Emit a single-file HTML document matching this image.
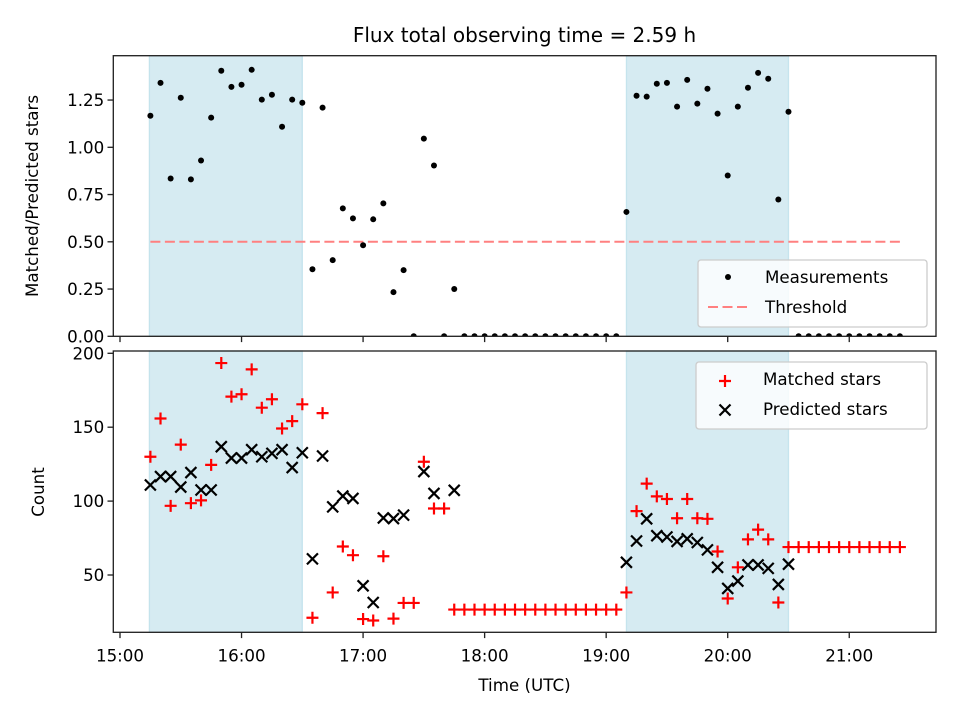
<!DOCTYPE html>
<html><head><meta charset="utf-8"><style>
html,body{margin:0;padding:0;background:#fff;}
svg{display:block;font-family:"DejaVu Sans","Liberation Sans",sans-serif;}
</style></head><body>
<svg id="chart" width="960" height="720" viewBox="0 0 960 720" xmlns="http://www.w3.org/2000/svg">
<defs>
<clipPath id="clipTop"><rect x="113.3" y="55.7" width="822.7" height="280.6"/></clipPath>
<clipPath id="clipBot"><rect x="113.3" y="351" width="822.7" height="281.3"/></clipPath>
</defs>
<text x="524.5" y="42" text-anchor="middle" font-size="20" fill="#000">Flux total observing time = 2.59 h</text>
<g id="gTop"></g>
<g id="gBot"></g>
</svg>
<script>
const times = ["15:15","15:20","15:25","15:30","15:35","15:40","15:45","15:50","15:55",
"16:00","16:05","16:10","16:15","16:20","16:25","16:30","16:35","16:40","16:45","16:50","16:55",
"17:00","17:05","17:10","17:15","17:20","17:25","17:30","17:35","17:40","17:45","17:50","17:55",
"18:00","18:05","18:10","18:15","18:20","18:25","18:30","18:35","18:40","18:45","18:50","18:55",
"19:00","19:05","19:10","19:15","19:20","19:25","19:30","19:35","19:40","19:45","19:50","19:55",
"20:00","20:05","20:10","20:15","20:20","20:25","20:30","20:35","20:40","20:45","20:50","20:55",
"21:00","21:05","21:10","21:15","21:20","21:25"];
const ratio = [1.167,1.341,0.835,1.262,0.830,0.930,1.157,1.405,1.320,1.331,1.410,1.252,1.278,1.109,1.252,1.236,0.355,1.210,0.403,0.677,0.624,0.482,0.619,0.703,0.234,0.350,0,1.046,0.904,0,0.25,
0,0,0,0,0,0,0,0,0,0,0,0,0,0,0,0,
0.658,1.273,1.268,1.336,1.341,1.215,1.357,1.231,1.310,1.178,0.851,1.215,1.315,1.394,1.363,0.724,1.188,
0,0,0,0,0,0,0,0,0,0,0];
const matched = [130,155.9,96.8,138.2,98.6,100.5,124.5,193.4,170.7,172.3,189.1,163.2,168.9,149.1,154.1,165.5,21.1,159.5,38.2,69.3,63.4,20.2,19.2,62.7,20.5,31.1,31.1,126.6,95,95,26.6,
26.6,26.6,26.6,26.6,26.6,26.6,26.6,26.6,26.6,26.6,26.6,26.6,26.6,26.6,26.6,26.6,
38.2,93.2,111.8,103.2,101.4,88.4,101.4,88.4,88,65.9,34.1,55.2,74.1,80.7,74.1,31.4,
68.9,68.9,68.9,68.9,68.9,68.9,68.9,68.9,68.9,68.9,68.9,68.9];
const predicted = [110.9,116.6,116.6,109.5,119.3,107.5,107.5,136.8,129.1,129.1,134.8,130,132.3,134.8,122.7,132.7,60.9,130.5,96.1,103.4,101.8,42.7,31.4,88.6,88.2,90.5,null,120,105.2,null,107.3,
null,null,null,null,null,null,null,null,null,null,null,null,null,null,null,null,
58.6,73,88,76.6,75.7,72.7,74.5,72,67,55.2,40.9,45.9,56.8,56.8,54.5,43.6,57.3,
null,null,null,null,null,null,null,null,null,null,null];
const shadeSpans = [["15:14.5","16:30"],["19:10","20:30"]];
const threshold = 0.5;
const xTickLabels = ["15:00","16:00","17:00","18:00","19:00","20:00","21:00"];
const topYTicks = [0,0.25,0.5,0.75,1.0,1.25];
const botYTicks = [50,100,150,200];

const NS="http://www.w3.org/2000/svg";
const AX={l:113.3,r:936};
const TOP={t:55.7,b:336.3}, BOT={t:351,b:632.3};
function toMin(s){const p=s.split(":");return (+p[0]-15)*60+parseFloat(p[1]);}
function x(s){return 120+toMin(s)*2.0257;}
function yTop(v){return 336.3-v*189.0;}
function yBot(v){return 575-(v-50)*1.478;}
function mk(tag,attrs,parent){const e=document.createElementNS(NS,tag);for(const k in attrs)e.setAttribute(k,attrs[k]);parent.appendChild(e);return e;}
const gT=document.getElementById('gTop'), gB=document.getElementById('gBot');

function shading(g,pan){
  shadeSpans.forEach((s,i)=>{
    const r=mk('rect',{x:x(s[0]),y:pan.t,width:x(s[1])-x(s[0]),height:pan.b-pan.t,fill:'rgba(173,216,230,0.5)',stroke:'rgba(173,216,230,0.6)','stroke-width':1.3},g);
    
    
  });
}
shading(gT,TOP); shading(gB,BOT);

const th=mk('line',{x1:x(times[0]),x2:x(times[times.length-1]),y1:yTop(threshold),y2:yTop(threshold),stroke:'#ff8080','stroke-width':2,'stroke-dasharray':'10,4.5'},gT);



const gR=mk('g',{'clip-path':'url(#clipTop)'},gT);


ratio.forEach((v,i)=>{
  if(v===null)return;
  const c=mk('circle',{cx:x(times[i]),cy:yTop(v),r:3,fill:'#000'},gR);
  
  
});

const gC=mk('g',{'clip-path':'url(#clipBot)'},gB);
const gM=mk('g',{},gC);


matched.forEach((v,i)=>{
  if(v===null)return;
  const cx=x(times[i]),cy=yBot(v),s=6;
  const p=mk('path',{d:`M${cx-s},${cy}H${cx+s}M${cx},${cy-s}V${cy+s}`,stroke:'#ff0000','stroke-width':2.2,fill:'none'},gM);
  
  
});
const gP=mk('g',{},gC);


predicted.forEach((v,i)=>{
  if(v===null)return;
  const cx=x(times[i]),cy=yBot(v),s=5.5;
  const p=mk('path',{d:`M${cx-s},${cy-s}L${cx+s},${cy+s}M${cx-s},${cy+s}L${cx+s},${cy-s}`,stroke:'#000','stroke-width':2.2,fill:'none'},gP);
  
  
});

function axes(g,pan,yt,yf,fmt,label,labelY,showX){
  const fr=mk('rect',{x:AX.l,y:pan.t,width:AX.r-AX.l,height:pan.b-pan.t,fill:'none',stroke:'#222','stroke-width':1.33},g);
  
  
  yt.forEach(v=>{
    const y=yf(v);
    mk('line',{x1:AX.l-5.8,x2:AX.l,y1:y,y2:y,stroke:'#222','stroke-width':1.33},g);
    const t=mk('text',{x:AX.l-9,y:y+6,'text-anchor':'end','font-size':16.7,fill:'#000'},g);
    t.textContent=fmt(v);
    
    
  });
  xTickLabels.forEach(s=>{
    const xx=x(s);
    mk('line',{x1:xx,x2:xx,y1:pan.b,y2:pan.b+5.8,stroke:'#222','stroke-width':1.33},g);
    if(showX){
      const t=mk('text',{x:xx,y:pan.b+29,'text-anchor':'middle','font-size':16.7,fill:'#000'},g);
      t.textContent=s;
      
      
    }
  });
  const yl=mk('text',{x:0,y:0,'text-anchor':'middle','font-size':16.7,fill:'#000',transform:`translate(${labelY[0]},${labelY[1]}) rotate(-90)`},g);
  yl.textContent=label;
  
  
}
axes(gT,TOP,topYTicks,yTop,v=>v.toFixed(2),'Matched/Predicted stars',[38,196],false);
axes(gB,BOT,botYTicks,yBot,v=>String(v),'Count',[44,492],true);
const xl=mk('text',{x:524.5,y:691,'text-anchor':'middle','font-size':16.7,fill:'#000'},gB);
xl.textContent='Time (UTC)';



const lg1=mk('g',{},gT);


mk('rect',{x:698,y:260,width:229,height:67,rx:3,fill:'rgba(255,255,255,0.8)',stroke:'#ccc','stroke-width':1.3},lg1);
mk('circle',{cx:728,cy:277,r:3,fill:'#000'},lg1);
let t=mk('text',{x:765,y:283,'font-size':16.7,fill:'#000'},lg1);t.textContent='Measurements';


mk('line',{x1:708,x2:748,y1:307,y2:307,stroke:'#ff8080','stroke-width':2,'stroke-dasharray':'10,4.5'},lg1);
t=mk('text',{x:765,y:313,'font-size':16.7,fill:'#000'},lg1);t.textContent='Threshold';



const lg2=mk('g',{},gB);


mk('rect',{x:696,y:362,width:231,height:67,rx:3,fill:'rgba(255,255,255,0.8)',stroke:'#ccc','stroke-width':1.3},lg2);
mk('path',{d:'M719,381H731M725,375V387',stroke:'#ff0000','stroke-width':2.2},lg2);
t=mk('text',{x:763,y:385,'font-size':16.7,fill:'#000'},lg2);t.textContent='Matched stars';


mk('path',{d:'M719.5,404.5L730.5,415.5M719.5,415.5L730.5,404.5',stroke:'#000','stroke-width':2.2},lg2);
t=mk('text',{x:763,y:415,'font-size':16.7,fill:'#000'},lg2);t.textContent='Predicted stars';


</script>
</body></html>
